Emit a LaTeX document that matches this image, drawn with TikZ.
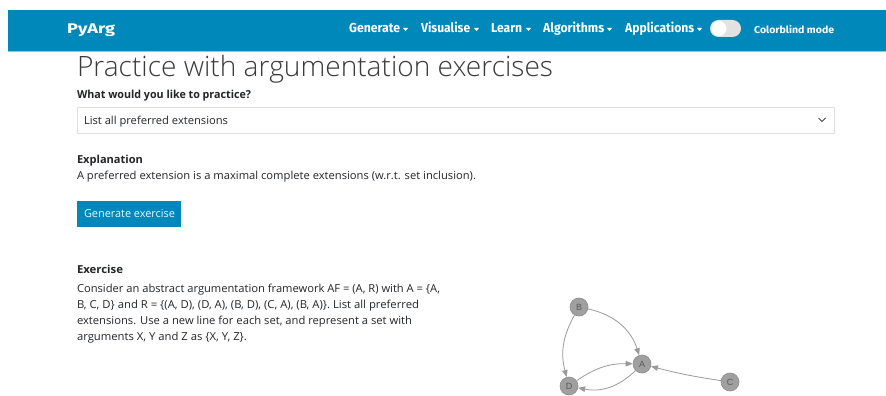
\documentclass[tikz,border=0pt]{standalone}
\usepackage{fontspec}
\usepackage{graphicx}
\setmainfont{Open Sans}
\newfontfamily\navfont{Fira Sans}
\newfontfamily\lightfont{Open Sans Light}
\newfontfamily\graphfont{Liberation Sans}
\usetikzlibrary{arrows.meta}
\definecolor{navblue}{HTML}{0088BA}
\definecolor{navline}{HTML}{8CCAE0}
\definecolor{bodytext}{HTML}{212529}
\definecolor{headtext}{HTML}{3A3A3A}
\definecolor{boxborder}{HTML}{DEE2E6}
\definecolor{nodegray}{HTML}{A0A0A0}
\definecolor{nodeborder}{HTML}{8C8C8C}
\definecolor{edgegray}{HTML}{9A9A9A}
\definecolor{toggleg}{HTML}{E2E2E2}
\newcommand\fitto[2]{\resizebox{#1pt}{\height}{#2}}
\begin{document}
\begin{tikzpicture}[x=1pt,y=-1pt,
  txt/.style={anchor=base west,inner sep=0pt,outer sep=0pt,text=bodytext,font=\fontsize{11}{13}\selectfont},
  boldtxt/.style={txt,font=\fontsize{11}{13}\selectfont\bfseries},
  navtxt/.style={anchor=base west,inner sep=0pt,text=white,font=\navfont\fontsize{13}{15}\selectfont\bfseries},
  caret/.style={fill=white,draw=none},
  arg/.style={circle,fill=nodegray,draw=nodeborder,line width=0.6pt,minimum size=18pt,inner sep=0pt,text=black!65,font=\graphfont\fontsize{9}{9}\selectfont},
  attack/.style={draw=edgegray,line width=0.8pt,-{Triangle[length=7pt,width=5.5pt]}}
]
\useasboundingbox (0,0) rectangle (886,396);
\fill[white] (0,0) rectangle (886,396);
% navbar
\fill[navblue] (8,10) rectangle (886,51);
\draw[navline,line width=0.8pt] (8,51.4) -- (886,51.4);
\node[navtxt,font=\navfont\fontsize{14}{16}\selectfont\bfseries] (brand) at (67,34) {\fitto{48}{PyArg}};
\node[navtxt] (gen) at (349,33) {\fitto{51}{Generate}};
\node[navtxt] (vis) at (421,33) {\fitto{49}{Visualise}};
\node[navtxt] (learn) at (491,33) {\fitto{31}{Learn}};
\node[navtxt] (alg) at (543,33) {\fitto{61}{Algorithms}};
\node[navtxt] (app) at (625,33) {\fitto{69}{Applications}};
\foreach \cx in {403,474,526,607,697}{
  \fill[caret] (\cx,28) -- (\cx+5,28) -- (\cx+2.5,31) -- cycle;
}
\fill[toggleg,rounded corners=8.5pt] (710,20) rectangle (741,37);
\fill[white] (719,28.5) circle[radius=7.5];
\node[navtxt,font=\navfont\fontsize{10}{12}\selectfont\bfseries] (cb) at (754,34) {\fitto{80}{Colorblind mode}};
% heading
\node[txt,text=headtext,font=\lightfont\fontsize{28}{32}\selectfont] (title) at (77,77) {\fitto{476}{Practice with argumentation exercises}};
\node[boldtxt] (q) at (77,99) {\fitto{174}{What would you like to practice?}};
% dropdown
\draw[boxborder,line width=0.8pt] (77,107) rectangle (834,133);
\node[txt] (sel) at (84,124) {\fitto{144}{List all preferred extensions}};
\draw[black!70,line width=0.9pt] (818.5,118) -- (822,121.5) -- (825.5,118);
% explanation
\node[boldtxt] (exh) at (77,163) {\fitto{66}{Explanation}};
\node[txt] (ext) at (77,179) {\fitto{399}{A preferred extension is a maximal complete extensions (w.r.t. set inclusion).}};
% button
\fill[navblue] (77,201) rectangle (181,227);
\node[txt,text=white!92!navblue] (btn) at (84,217) {\fitto{91}{Generate exercise}};
% exercise
\node[boldtxt] (exr) at (77,273) {\fitto{46}{Exercise}};
\node[txt] (l1) at (77,292) {\fitto{363}{Consider an abstract argumentation framework AF = (A, R) with A = \{A,}};
\node[txt] (l2) at (77,308) {\fitto{342}{B, C, D\} and R = \{(A, D), (D, A), (B, D), (C, A), (B, A)\}. List all preferred}};
\node[txt] (l3) at (77,324) {\fitto{335}{extensions. Use a new line for each set, and represent a set with}};
\node[txt] (l4) at (77,340) {\fitto{170}{arguments X, Y and Z as \{X, Y, Z\}.}};
% graph
\node[arg] (B) at (579,307) {B};
\node[arg] (A) at (642,364) {A};
\node[arg] (D) at (569,386) {D};
\node[arg] (C) at (730,382) {C};
\draw[attack] (B) to[bend left=30] (A);
\draw[attack] (B) to[bend right=22] (D);
\draw[attack] (D) to[bend left=18] (A);
\draw[attack] (A) to[bend left=28] (D);
\draw[attack] (C) to[bend left=3] (A);
\end{tikzpicture}
\end{document}
